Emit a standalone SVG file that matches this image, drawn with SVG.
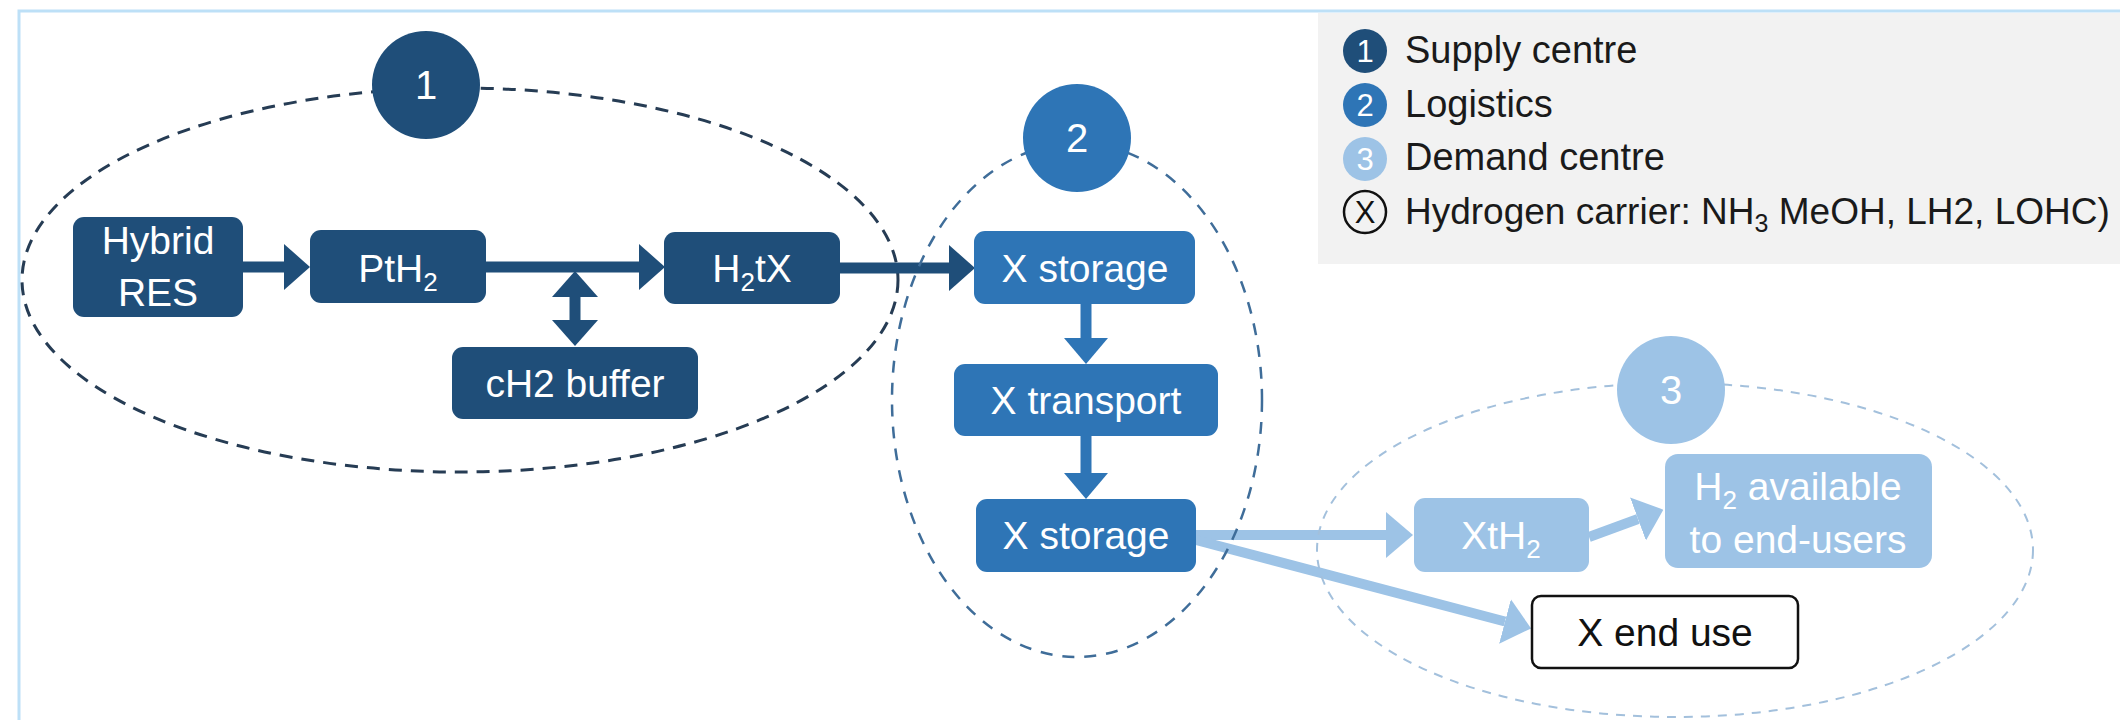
<svg xmlns="http://www.w3.org/2000/svg" width="2120" height="720" viewBox="0 0 2120 720">
<style>
text{font-family:"Liberation Sans",Arial,sans-serif}
.t{font-size:39px;fill:#fff;text-anchor:middle}
.lg{font-size:38px;fill:#1a1a1a}
.num{font-size:40px;fill:#fff;text-anchor:middle}
.lnum{font-size:31px;fill:#fff;text-anchor:middle}
.dark{fill:#1f4e79}
.mid{fill:#2e75b6}
.light{fill:#9dc3e6}
.c-dark{stroke:#1f4e79;stroke-width:11;fill:none}
.c-mid{stroke:#2e75b6;stroke-width:11;fill:none}
.c-light{stroke:#9dc3e6;stroke-width:10;fill:none}
</style>
<defs>
<marker id="ah-dark" viewBox="0 -23 26 46" refX="0" refY="0" markerWidth="26" markerHeight="46" markerUnits="userSpaceOnUse" orient="auto-start-reverse"><path d="M0,-23 L26,0 L0,23 z" fill="#1f4e79"/></marker>
<marker id="ah-mid" viewBox="0 -22 26 44" refX="0" refY="0" markerWidth="26" markerHeight="44" markerUnits="userSpaceOnUse" orient="auto"><path d="M0,-22 L26,0 L0,22 z" fill="#2e75b6"/></marker>
<marker id="ah-light" viewBox="0 -23 27 46" refX="0" refY="0" markerWidth="27" markerHeight="46" markerUnits="userSpaceOnUse" orient="auto"><path d="M0,-23 L27,0 L0,23 z" fill="#9dc3e6"/></marker>
</defs>
<rect width="2120" height="720" fill="#fff"/>
<rect x="19" y="11" width="2200" height="800" fill="none" stroke="#bde0f7" stroke-width="3"/>

<g id="legend">
<rect x="1318" y="13" width="810" height="251" fill="#f2f2f2"/>
<circle cx="1365" cy="51" r="22" class="dark"/><text x="1365" y="62" class="lnum">1</text>
<text x="1405" y="63" class="lg">Supply centre</text>
<circle cx="1365" cy="105" r="22" class="mid"/><text x="1365" y="116" class="lnum">2</text>
<text x="1405" y="117" class="lg">Logistics</text>
<circle cx="1365" cy="159" r="22" class="light"/><text x="1365" y="170" class="lnum">3</text>
<text x="1405" y="170" class="lg">Demand centre</text>
<circle cx="1365" cy="212" r="21" fill="none" stroke="#111" stroke-width="2.5"/><text x="1365" y="223" class="lnum" style="fill:#111">X</text>
<text x="1405" y="224" class="lg" style="font-size:37px">Hydrogen carrier: NH<tspan font-size="25" dy="8">3</tspan><tspan dy="-8"> MeOH, LH2, LOHC)</tspan></text>
</g>

<g id="zone1-boundary"><ellipse cx="460" cy="280" rx="438" ry="192" fill="none" stroke="#263c54" stroke-width="3" stroke-dasharray="13 9"/></g>

<g id="connectors">
<line x1="243" y1="267" x2="284" y2="267" class="c-dark" marker-end="url(#ah-dark)"/>
<line x1="486" y1="267" x2="639" y2="267" class="c-dark" marker-end="url(#ah-dark)"/>
<line x1="575" y1="297" x2="575" y2="320" class="c-dark" marker-start="url(#ah-dark)" marker-end="url(#ah-dark)"/>
<line x1="840" y1="268" x2="949" y2="268" class="c-dark" marker-end="url(#ah-dark)"/>
<line x1="1086" y1="304" x2="1086" y2="338" class="c-mid" marker-end="url(#ah-mid)"/>
<line x1="1086" y1="436" x2="1086" y2="473" class="c-mid" marker-end="url(#ah-mid)"/>
<line x1="1196" y1="535" x2="1386" y2="535" class="c-light" marker-end="url(#ah-light)"/>
<line x1="1196" y1="540" x2="1505" y2="621.5" class="c-light" marker-end="url(#ah-light)"/>
<line x1="1589" y1="537" x2="1638" y2="519" class="c-light" marker-end="url(#ah-light)"/>
</g>

<g id="zone2-boundary"><ellipse cx="1077" cy="400" rx="185" ry="257" fill="none" stroke="#3f6d99" stroke-width="2.5" stroke-dasharray="12 10"/></g>
<g id="zone3-boundary"><ellipse cx="1675" cy="550" rx="358" ry="167" fill="none" stroke="#a3c0dc" stroke-width="2" stroke-dasharray="9 8"/></g>

<g id="badge-1"><circle cx="426" cy="85" r="54" class="dark"/><text x="426" y="99" class="num">1</text></g>
<g id="badge-2"><circle cx="1077" cy="138" r="54" class="mid"/><text x="1077" y="152" class="num">2</text></g>
<g id="badge-3"><circle cx="1671" cy="390" r="54" class="light"/><text x="1671" y="404" class="num">3</text></g>

<g id="hybrid-res"><rect x="73" y="217" width="170" height="100" rx="11" class="dark"/><text x="158" y="254" class="t">Hybrid</text><text x="158" y="306" class="t">RES</text></g>
<g id="pth2"><rect x="310" y="230" width="176" height="73" rx="11" class="dark"/><text x="398" y="282" class="t">PtH<tspan font-size="26" dy="9">2</tspan></text></g>
<g id="h2tx"><rect x="664" y="232" width="176" height="72" rx="11" class="dark"/><text x="752" y="282" class="t">H<tspan font-size="26" dy="9">2</tspan><tspan dy="-9">tX</tspan></text></g>
<g id="ch2-buffer"><rect x="452" y="347" width="246" height="72" rx="11" class="dark"/><text x="575" y="397" class="t">cH2 buffer</text></g>
<g id="x-storage-1"><rect x="974" y="231" width="221" height="73" rx="11" class="mid"/><text x="1085" y="282" class="t">X storage</text></g>
<g id="x-transport"><rect x="954" y="364" width="264" height="72" rx="11" class="mid"/><text x="1086" y="414" class="t">X transport</text></g>
<g id="x-storage-2"><rect x="976" y="499" width="220" height="73" rx="11" class="mid"/><text x="1086" y="549" class="t">X storage</text></g>
<g id="xth2"><rect x="1414" y="498" width="175" height="74" rx="11" class="light"/><text x="1501" y="549" class="t">XtH<tspan font-size="26" dy="9">2</tspan></text></g>
<g id="h2-available"><rect x="1665" y="454" width="267" height="114" rx="13" class="light"/><text x="1798" y="500" class="t">H<tspan font-size="26" dy="9">2</tspan><tspan dy="-9"> available</tspan></text><text x="1798" y="553" class="t">to end-users</text></g>
<g id="x-end-use"><rect x="1532" y="596" width="266" height="72" rx="9" fill="#fff" stroke="#111" stroke-width="2.5"/><text x="1665" y="646" class="t" style="fill:#111">X end use</text></g>
</svg>
